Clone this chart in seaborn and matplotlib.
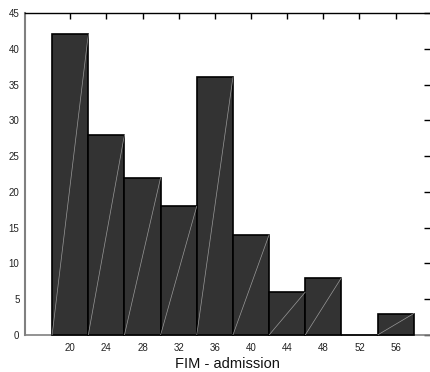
import numpy as np
import pandas as pd
import matplotlib
matplotlib.use("Agg")
import matplotlib.pyplot as plt
import seaborn as sns

# FIM admission score bins (centres) and patient counts
bin_centers = [20, 24, 28, 32, 36, 40, 44, 48, 52, 56]
counts = [42, 28, 22, 18, 36, 14, 6, 8, 0, 3]
bin_width = 4
x_ticks = [20, 24, 28, 32, 36, 40, 44, 48, 52, 56]
y_ticks = [0, 5, 10, 15, 20, 25, 30, 35, 40, 45]

df = pd.DataFrame({"fim": bin_centers, "n": counts})
edges = [c - bin_width / 2 for c in bin_centers] + [bin_centers[-1] + bin_width / 2]

sns.set_style("white")
plt.rcParams["font.family"] = ["Liberation Sans", "DejaVu Sans"]

fig = plt.figure(figsize=(4.31, 3.72), dpi=100)
ax = fig.add_axes([25 / 431, 1 - 335 / 372, 405 / 431, 322 / 372])

sns.histplot(data=df, x="fim", weights="n", bins=edges, ax=ax,
             color="#333333", alpha=1.0, edgecolor="black", linewidth=1.2)
for p in ax.patches:
    p.set_clip_on(False)
    p.set_zorder(3)

# faint diagonal stroke inside each bar
for left, right, h in zip(edges[:-1], edges[1:], counts):
    if h > 0:
        ax.plot([left, right], [0, h], color="#9a9a9a", lw=0.5, zorder=4)

ax.set_xlim(15, 59.8)
ax.set_ylim(0, 45)
ax.set_xticks(x_ticks)
ax.set_yticks(y_ticks)
ax.set_xlabel("FIM - admission", fontsize=10.5, labelpad=3, color="#111111")
ax.set_ylabel("")
ax.tick_params(axis="both", direction="in", length=4, width=1, labelsize=7,
               top=True, right=True, colors="black", labelcolor="#222222", pad=4)
ax.tick_params(axis="x", pad=6)

ax.spines["top"].set_color("black")
ax.spines["top"].set_linewidth(1.0)
ax.spines["bottom"].set_color("#808080")
ax.spines["bottom"].set_linewidth(1.2)
ax.spines["left"].set_color("#808080")
ax.spines["left"].set_linewidth(1.5)
ax.spines["right"].set_visible(False)

fig.savefig("out.png", dpi=100)
